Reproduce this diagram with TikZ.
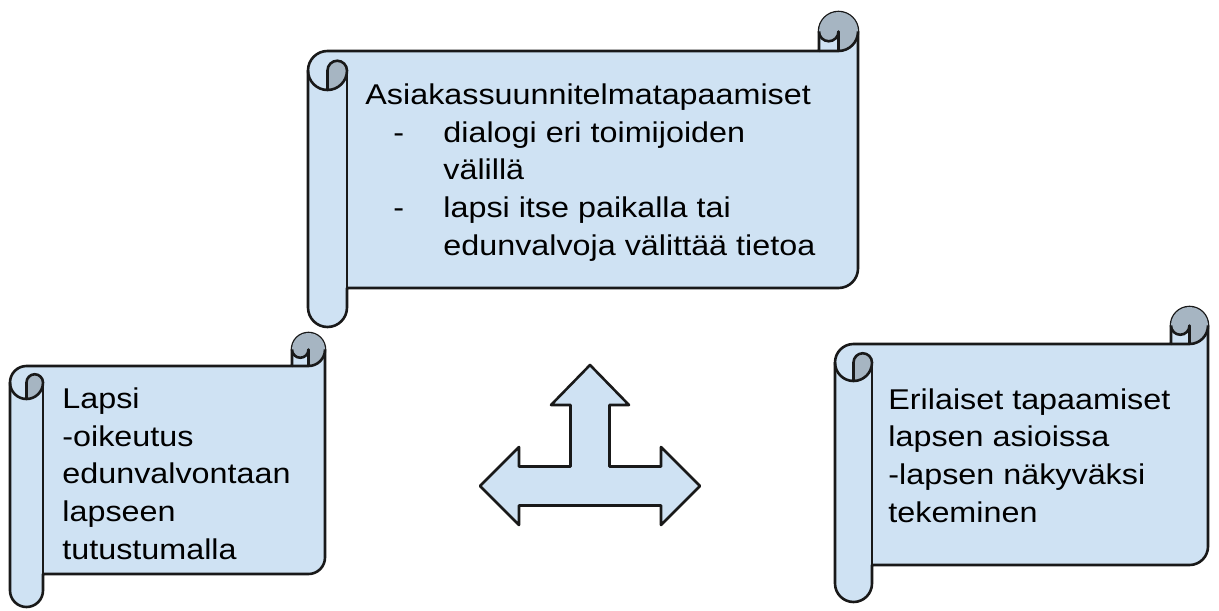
\documentclass[tikz,border=0pt]{standalone}
\usepackage{fontspec}
\setmainfont{Liberation Sans}[FakeStretch=1.13]

\definecolor{scrollblue}{HTML}{CFE2F3}
\definecolor{scrollshade}{HTML}{A6B5C2}

\tikzset{
  scrolledge/.style={draw=black!90, line width=1.3pt, line join=round},
  scrolltext/.style={anchor=base west, align=left, inner sep=0pt,
    font=\fontsize{14.3}{18.8}\selectfont}
}

% scroll with left x, top y, right x, bottom y, curl size
\newcommand{\scrollshape}[5]{
  \filldraw[scrolledge, fill=scrollblue] (#1,#2+1.5*#5) arc[start angle=180, end angle=270, radius=#5/2]
    -- (#3-#5,#2+#5) -- (#3-#5,#2+#5/2) arc[start angle=180, end angle=360, radius=#5/2]
    -- (#3,#4-1.5*#5) arc[start angle=0, end angle=90, radius=#5/2]
    -- (#1+#5,#4-#5) -- (#1+#5,#4-#5/2) arc[start angle=0, end angle=180, radius=#5/2] -- cycle;
  \fill[scrollshade] (#1+#5/2,#2+2*#5) arc[start angle=90, end angle=0, radius=#5/2]
    arc[start angle=0, end angle=-180, radius=#5/4] -- cycle;
  \fill[scrollshade] (#3-#5/2,#2+#5) arc[start angle=90, end angle=-180, radius=#5/2]
    arc[start angle=180, end angle=0, radius=#5/4] -- cycle;
  \draw[scrolledge] (#3-#5,#2+#5) -- (#3-#5/2,#2+#5) arc[start angle=90, end angle=0, radius=#5/2];
  \draw[scrolledge] (#3-#5/2,#2+#5) -- (#3-#5/2,#2+#5/2) arc[start angle=0, end angle=180, radius=#5/4];
  \draw[scrolledge] (#1+#5/2,#2+2*#5) -- (#1+#5/2,#2+1.5*#5) arc[start angle=180, end angle=360, radius=#5/4]
    arc[start angle=0, end angle=180, radius=#5/2];
  \draw[scrolledge] (#1+#5,#2+1.5*#5) -- (#1+#5,#4-#5);
}

\begin{document}
\begin{tikzpicture}[x=0.5pt, y=-0.5pt]
    \useasboundingbox (0,0) rectangle (1219,610);

    \scrollshape{308}{12}{858}{327}{39}
    \scrollshape{10}{333}{325}{607}{33}
    \scrollshape{835}{307}{1208}{602}{37}

    % nodes are placed at the baseline of their last line
    \node[scrolltext] (plan) at (365,255) {Asiakassuunnitelmatapaamiset\\
      \hspace*{14pt}\makebox[25pt][l]{-}dialogi eri toimijoiden\\
      \hspace*{39pt}välillä\\
      \hspace*{14pt}\makebox[25pt][l]{-}lapsi itse paikalla tai\\
      \hspace*{39pt}edunvalvoja välittää tietoa};
    \node[scrolltext] (child) at (62,559) {Lapsi\\-oikeutus\\edunvalvontaan\\lapseen\\tutustumalla};
    \node[scrolltext] (meetings) at (888,522) {Erilaiset tapaamiset\\lapsen asioissa\\-lapsen näkyväksi\\tekeminen};

    \filldraw[scrolledge, fill=scrollblue] (590,365) -- (629,405) -- (609.5,405) -- (609.5,466.5)
      -- (661,466.5) -- (661,447) -- (700,486) -- (661,525) -- (661,505.5) -- (519,505.5)
      -- (519,525) -- (480,486) -- (519,447) -- (519,466.5) -- (570.5,466.5) -- (570.5,405)
      -- (551,405) -- cycle;
\end{tikzpicture}
\end{document}
